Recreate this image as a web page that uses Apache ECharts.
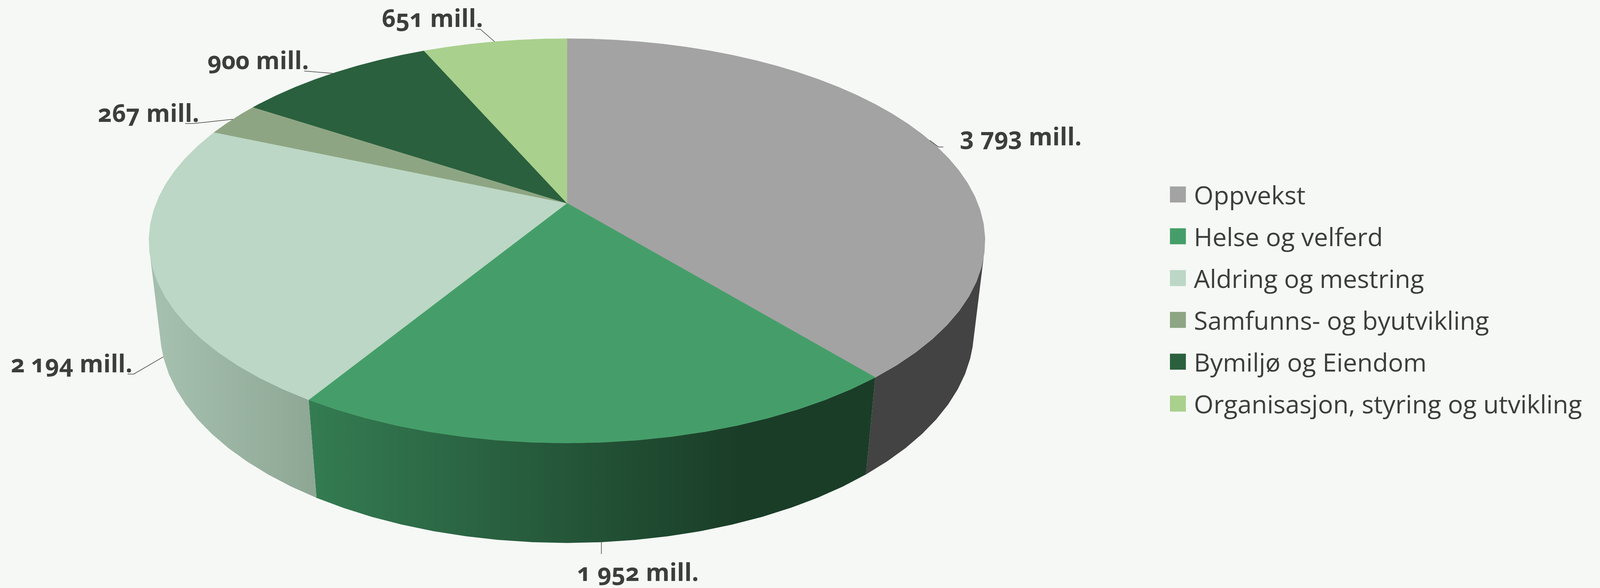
<!DOCTYPE html>
<html><head><meta charset="utf-8">
<style>
html,body{margin:0;padding:0;background:#F6F8F5;overflow:hidden}
#c{width:100vw;height:100vh}
svg text{font-feature-settings:"onum" 1 !important;font-variant-numeric:oldstyle-nums !important}
</style>
<script src="https://cdn.jsdelivr.net/npm/echarts@6/dist/echarts.min.js"></script>
</head><body><div id="c"></div>
<script>
const categories=['Oppvekst','Helse og velferd','Aldring og mestring','Samfunns- og byutvikling','Bymiljø og Eiendom','Organisasjon, styring og utvikling'];
const values=[3793,1952,2194,267,900,651];
const colors=['#A3A3A3','#459E69','#BCD7C5','#8EA583','#2A603D','#A9D08D'];
const total=values.reduce((a,b)=>a+b,0);
// the browser may cap the window below the reference width: keep the layout proportional
const SX=window.innerWidth/4219;
const P=0.1864,Q=0.0263,A=1083*SX,B=499.5,C=231,CX=1495*SX,CY=520;
const FACET=4,WALL_FROM=105,WALL_TO=255;
function project(deg,z){
  const t=deg*Math.PI/180,u=Math.sin(t),v=Math.cos(t),w=1+P*v+Q*z;
  return [CX+A*u/w,CY+(-B*v+C*z)/w];
}
function arc(a0,a1,z){
  const pts=[project(a0,z)];
  let d=Math.floor(a0/FACET+1)*FACET;
  for(;d<a1-1e-6;d+=FACET)pts.push(project(d,z));
  pts.push(project(a1,z));
  return pts;
}
let cum=0;
const spans=values.map(v=>{const s=[cum/total*360,(cum+v)/total*360];cum+=v;return s;});
// label layout relative to the rim anchor: anchor height z, elbow, end, text left, text bottom
const labelLayout=[
 {z:0,elbow:[23,17],end:[36,17],tx:80,ty:20},
 {z:1,elbow:[0,30],end:[0,30],tx:-64,ty:106},
 {z:1,elbow:[-78,44],end:[-94,44],tx:-402,ty:47},
 {z:0,elbow:[-107,11],end:[-126,11],tx:-356,ty:14},
 {z:0,elbow:[-75,-6],end:[-75,-6],tx:-330,ty:-4},
 {z:0,elbow:[-38,-32],end:[-50,-32],tx:-298,ty:-31}
];
const wallFill=[
 '#434343',
 {type:'linear',x:814*SX,y:0,x2:1950*SX,y2:0,global:true,colorStops:[{offset:0,color:'#347C52'},{offset:1,color:'#1A3D28'}]},
 {type:'linear',x:430*SX,y:0,x2:814*SX,y2:0,global:true,colorStops:[{offset:0,color:'#A5BFAE'},{offset:1,color:'#8FA896'}]},
 '#434343','#434343','#434343'
];
const TEXT='#3C3E3C';
function fmt(v){return String(v).replace(/\B(?=(\d{3})+$)/g,' ')+' mill.';}
const series=[];
series.push({type:'custom',name:'vegger',coordinateSystem:'none',silent:true,z:1,animation:false,data:[0],
 renderItem(){
  const children=[];
  spans.forEach((s,i)=>{
   const a=Math.max(s[0],WALL_FROM),b=Math.min(s[1],WALL_TO);
   if(b<=a)return;
   const pts=arc(a,b,0).concat(arc(a,b,1).reverse());
   children.push({type:'polygon',shape:{points:pts},style:{fill:wallFill[i]}});
  });
  return {type:'group',children};
 }});
categories.forEach((name,i)=>{
 series.push({type:'custom',name,coordinateSystem:'none',silent:true,z:2,animation:false,itemStyle:{color:colors[i]},data:[values[i]],
  renderItem(){
   const s=spans[i],pts=[[CX,CY]].concat(arc(s[0],s[1],0));
   return {type:'polygon',shape:{points:pts},style:{fill:colors[i],stroke:colors[i],lineWidth:1}};
  }});
});
series.push({type:'custom',name:'etiketter',coordinateSystem:'none',silent:true,z:3,animation:false,data:[0],
 renderItem(){
  const children=[];
  values.forEach((v,i)=>{
   const L=labelLayout[i],m=(spans[i][0]+spans[i][1])/2,p=project(m,L.z);
   children.push({type:'polyline',shape:{points:[p,[p[0]+L.elbow[0]*SX,p[1]+L.elbow[1]],[p[0]+L.end[0]*SX,p[1]+L.end[1]]]},style:{fill:null,stroke:'#404040',lineWidth:1.5}});
   children.push({type:'text',style:{text:fmt(v),x:p[0]+L.tx*SX,y:p[1]+L.ty,fill:TEXT,font:'700 '+(64*SX)+'px "Open Sans"',align:'left',verticalAlign:'bottom'}});
  });
  return {type:'group',children};
 }});
const chart=echarts.init(document.getElementById('c'),null,{renderer:'svg'});
const LEGEND_FONT=66.6*SX;
chart.setOption({
 backgroundColor:'#F6F8F5',animation:false,
 legend:{data:categories,orient:'vertical',left:3085*SX,top:477-(LEGEND_FONT-41)/2,padding:0,itemWidth:42*SX,itemHeight:41,itemGap:106.7-LEGEND_FONT,icon:'rect',selectedMode:false,
  textStyle:{color:TEXT,fontFamily:'Open Sans',fontSize:LEGEND_FONT,padding:[0,0,0,16*SX]}},
 series
});
</script></body></html>
